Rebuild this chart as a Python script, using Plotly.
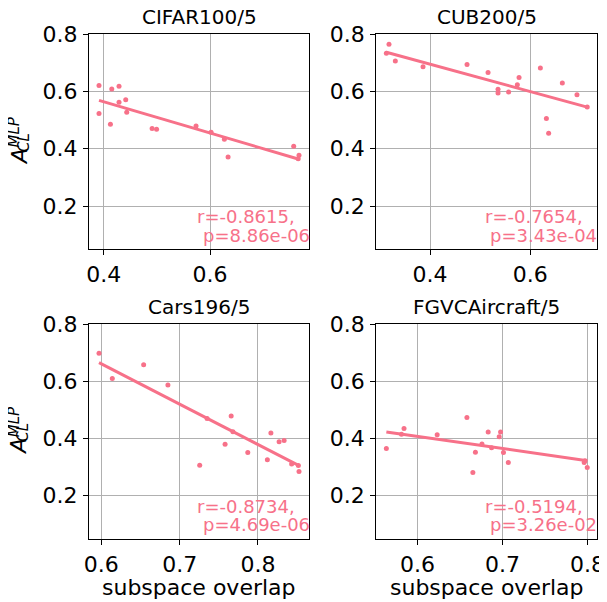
import numpy as np
import plotly.graph_objects as go

# ---------------- data ----------------
titles = ["CIFAR100/5", "CUB200/5", "Cars196/5", "FGVCAircraft/5"]

cifar_x = [0.391, 0.391, 0.415, 0.4125, 0.4287, 0.4287, 0.4413, 0.4432, 0.491,
           0.4994, 0.5737, 0.602, 0.627, 0.634, 0.7575, 0.7675, 0.766]
cifar_y = [0.620, 0.523, 0.608, 0.485, 0.618, 0.562, 0.571, 0.527, 0.470,
           0.468, 0.479, 0.457, 0.433, 0.371, 0.408, 0.377, 0.365]

cub_x = [0.3129, 0.3182, 0.3308, 0.386, 0.4738, 0.5157, 0.5356, 0.5356, 0.5567,
         0.5741, 0.5775, 0.620, 0.632, 0.6365, 0.6638, 0.693, 0.7135]
cub_y = [0.733, 0.764, 0.706, 0.686, 0.694, 0.666, 0.607, 0.594, 0.598,
         0.623, 0.648, 0.681, 0.505, 0.454, 0.629, 0.588, 0.545]

cars_x = [0.597, 0.614, 0.654, 0.685, 0.7256, 0.735, 0.758, 0.7658, 0.768, 0.787,
          0.812, 0.8165, 0.827, 0.8334, 0.843, 0.8516, 0.8524]
cars_y = [0.698, 0.610, 0.658, 0.587, 0.307, 0.470, 0.380, 0.479, 0.424, 0.351,
          0.326, 0.419, 0.389, 0.393, 0.311, 0.306, 0.285]

fgvc_x = [0.5632, 0.581, 0.584, 0.623, 0.658, 0.665, 0.668, 0.6757, 0.683, 0.687,
          0.696, 0.6976, 0.701, 0.7067, 0.796, 0.797, 0.7996]
fgvc_y = [0.365, 0.415, 0.435, 0.413, 0.473, 0.281, 0.352, 0.381, 0.423, 0.368,
          0.406, 0.423, 0.351, 0.316, 0.316, 0.322, 0.299]

r_labels = ["r=-0.8615,", "r=-0.7654,", "r=-0.8734,", "r=-0.5194,"]
p_labels = ["p=8.86e-06", "p=3.43e-04", "p=4.69e-06", "p=3.26e-02"]

x_dticks = [0.2, 0.2, 0.1, 0.1]
y_ticks = [0.2, 0.4, 0.6, 0.8]
y_range = [0.05, 0.8]
x_label = "subspace overlap"

# ---------------- styling ----------------
COLOR = "#f77189"
FONT = "DejaVu Sans"
PAGE_W, PAGE_H = 607, 602
OFF = 8  # default body margin of the html page
W, H = PAGE_W - OFF, PAGE_H - OFF


def fx(p):  # page pixel -> paper x
    return (p - OFF) / W


def fy(p):  # page pixel -> paper y
    return 1 - (p - OFF) / H


xs = [cifar_x, cub_x, cars_x, fgvc_x]
ys = [cifar_y, cub_y, cars_y, fgvc_y]

dom_x = [[fx(89), fx(309)], [fx(376.3), fx(597.3)]]
dom_y = [[fy(249), fy(34)], [fy(538.7), fy(324)]]

fig = go.Figure()
annotations = []
layout = {}

for i in range(4):
    k = i + 1
    row, col = i // 2, i % 2
    sx = "" if k == 1 else str(k)
    x = np.array(xs[i])
    y = np.array(ys[i])

    fig.add_trace(go.Scatter(
        x=x, y=y, mode="markers",
        marker=dict(color=COLOR, size=5, line=dict(width=0)),
        xaxis="x" + sx, yaxis="y" + sx, showlegend=False, hoverinfo="skip"))

    slope, icpt = np.polyfit(x, y, 1)
    xl = np.array([x.min(), x.max()])
    fig.add_trace(go.Scatter(
        x=xl, y=slope * xl + icpt, mode="lines",
        line=dict(color=COLOR, width=3),
        xaxis="x" + sx, yaxis="y" + sx, showlegend=False, hoverinfo="skip"))

    span = x.max() - x.min()
    xr = [x.min() - 0.05 * span, x.max() + 0.05 * span]

    axis_common = dict(
        automargin=False,
        showline=True, linecolor="black", linewidth=1.1, mirror=True,
        ticks="outside", ticklen=5, tickwidth=1.1, tickcolor="black",
        showgrid=True, gridcolor="#b0b0b0", gridwidth=1, zeroline=False,
        tickfont=dict(family=FONT, size=22, color="black"),
        ticklabelstandoff=1,
    )
    layout["xaxis" + sx] = dict(
        domain=dom_x[col], range=xr, anchor="y" + sx,
        tick0=0, dtick=x_dticks[i], tickformat=".1f", **axis_common)
    layout["yaxis" + sx] = dict(
        domain=dom_y[row], range=y_range, anchor="x" + sx,
        tickvals=y_ticks, tickformat=".1f", **axis_common)

    xd = "x" + sx + " domain"
    yd = "y" + sx + " domain"
    # title
    cx = (dom_x[col][0] + dom_x[col][1]) / 2
    top_px = 34 if row == 0 else 324
    annotations.append(dict(
        text=titles[i], x=cx, y=fy(top_px - 17), xref="paper", yref="paper",
        xanchor="center", yanchor="middle", showarrow=False,
        font=dict(family=FONT, size=20, color="black")))
    # stats text
    annotations.append(dict(
        text=r_labels[i], x=0.484, y=0.152, xref=xd, yref=yd,
        xanchor="left", yanchor="middle", showarrow=False,
        font=dict(family=FONT, size=18, color=COLOR)))
    annotations.append(dict(
        text=p_labels[i], x=0.507, y=0.065, xref=xd, yref=yd,
        xanchor="left", yanchor="middle", showarrow=False,
        font=dict(family=FONT, size=18, color=COLOR)))

    # x label on bottom row
    if row == 1:
        annotations.append(dict(
            text=x_label, x=cx, y=fy(587), xref="paper", yref="paper",
            xanchor="center", yanchor="middle", showarrow=False,
            font=dict(family=FONT, size=22, color="black")))
    # y label on left column:  A_{CL}^{MLP}
    if col == 0:
        cy = 141.5 if row == 0 else 431.3
        annotations.append(dict(
            text="<i>A</i>", x=fx(19), y=fy(cy + 15.5), xref="paper", yref="paper",
            xanchor="center", yanchor="middle", showarrow=False, textangle=-90,
            font=dict(family=FONT, size=22, color="black")))
        annotations.append(dict(
            text="<i>MLP</i>", x=fx(14), y=fy(cy - 9), xref="paper", yref="paper",
            xanchor="center", yanchor="middle", showarrow=False, textangle=-90,
            font=dict(family=FONT, size=15, color="black")))
        annotations.append(dict(
            text="<i>CL</i>", x=fx(23.5), y=fy(cy + 1), xref="paper", yref="paper",
            xanchor="center", yanchor="middle", showarrow=False, textangle=-90,
            font=dict(family=FONT, size=15, color="black")))

fig.update_layout(
    width=W, height=H,
    margin=dict(l=0, r=0, t=0, b=0, autoexpand=False),
    paper_bgcolor="white", plot_bgcolor="white",
    font=dict(family=FONT),
    annotations=annotations,
    **layout,
)

fig.write_html("out.html")
